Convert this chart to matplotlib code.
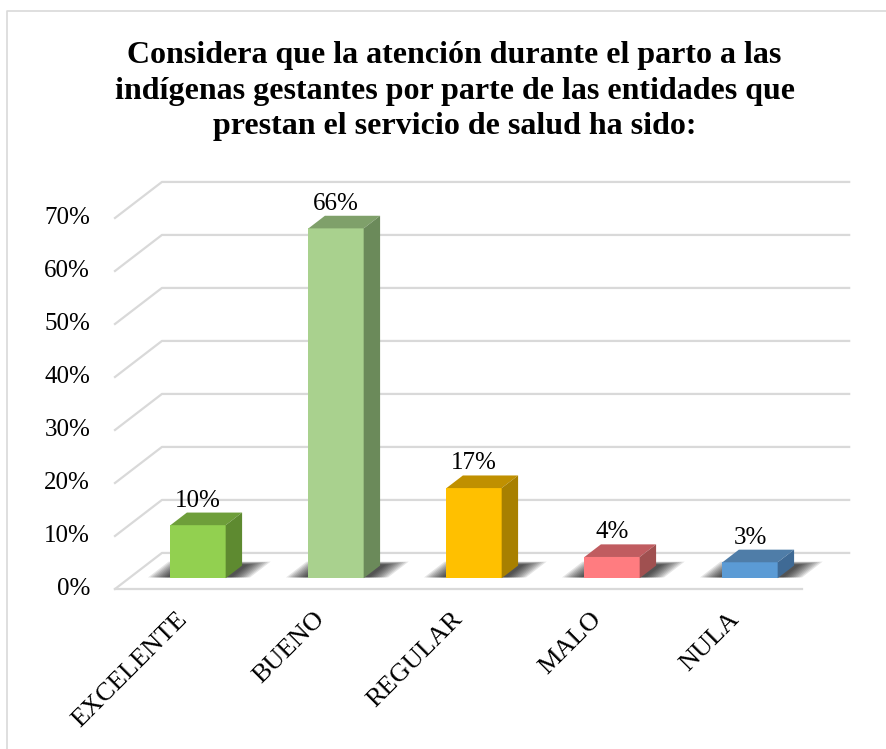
import matplotlib
matplotlib.use('Agg')
import matplotlib.pyplot as plt
from matplotlib.patches import Polygon

plt.rcParams['font.family'] = ['Liberation Serif', 'DejaVu Serif']

# data
categories = ['EXCELENTE', 'BUENO', 'REGULAR', 'MALO', 'NULA']
values = [10, 66, 17, 4, 3]
yticks = [0, 10, 20, 30, 40, 50, 60, 70]

front_col = ['#92D050', '#A9D18E', '#FFC000', '#FF7C80', '#5B9BD5']
top_col = ['#6E9E3A', '#7FA06A', '#C09000', '#C05C60', '#4F7DA8']
side_col = ['#5E8A30', '#6B8A5A', '#A88000', '#A05050', '#3F6A95']

title = ('Considera que la atención durante el parto a las\n'
         'indígenas gestantes por parte de las entidades que\n'
         'prestan el servicio de salud ha sido:')

# fake 3d projection: depth 1 = back wall
DX = 0.34   # category units per unit depth
DY = 6.8    # percent per unit depth
d0, d1 = 0.3, 0.65  # bar depth range
hw = 0.2            # half bar width


def proj(x, v, d):
    return (x + d * DX, v + d * DY)


fig = plt.figure(figsize=(8.86, 7.49), dpi=100)
ax = fig.add_axes([0, 0, 1, 1])
ax.set_xlim(-1.3333, 5.087)
ax.set_ylim(-30.19, 111.13)
ax.axis('off')

grid = '#D9D9D9'
xl, xr = -0.5, 4.48
for v in yticks:
    pts = [proj(xl, v, 0), proj(xl, v, 1), proj(xr, v, 1)]
    ax.plot([p[0] for p in pts], [p[1] for p in pts], color=grid, lw=1.6, zorder=1)
    ax.text(xl - 0.18, v, f'{v}%', ha='right', va='center', fontsize=18)
# floor front edge
ax.plot([xl, xr], [0, 0], color=grid, lw=1.6, zorder=1)

for i, (cat, val) in enumerate(zip(categories, values)):
    # soft shadow on floor
    n = 10
    for k in range(n):
        s = 0.15 * (1 - k / n)
        sh = [proj(i - hw - 0.02 - s, 0, d0 + 0.02),
              proj(i + hw + 0.02 + s, 0, d0 + 0.02),
              proj(i + hw + 0.02 + s, 0, d1 + 0.02 + s * 0.6),
              proj(i - hw - 0.02 - s, 0, d1 + 0.02 + s * 0.6)]
        ax.add_patch(Polygon(sh, closed=True, fc='#000000', ec='none',
                             alpha=0.1, zorder=2))
    xa, xb = i - hw, i + hw
    front = [proj(xa, 0, d0), proj(xb, 0, d0), proj(xb, val, d0), proj(xa, val, d0)]
    top = [proj(xa, val, d0), proj(xb, val, d0), proj(xb, val, d1), proj(xa, val, d1)]
    side = [proj(xb, 0, d0), proj(xb, 0, d1), proj(xb, val, d1), proj(xb, val, d0)]
    ax.add_patch(Polygon(front, closed=True, fc=front_col[i], ec='none', zorder=3))
    ax.add_patch(Polygon(top, closed=True, fc=top_col[i], ec='none', zorder=3))
    ax.add_patch(Polygon(side, closed=True, fc=side_col[i], ec='none', zorder=3))
    lx, ly = proj(i, val, d0)
    ax.text(lx, val + d1 * DY + 0.2, f'{val}%', ha='center', va='bottom',
            fontsize=18, zorder=4)
    ax.text(i - 0.06, -3.6, cat, ha='right', va='top', rotation=45,
            rotation_mode='anchor', fontsize=19)

fig.text(0.513, 0.945, title, ha='center', va='top', fontsize=23,
         fontweight='bold', linespacing=1.3)

# top and left frame lines
fig.add_artist(plt.Line2D([7 / 886, 7 / 886, 1], [0, 738 / 749, 738 / 749],
                          transform=fig.transFigure, color='#D9D9D9', lw=1.2))

fig.savefig('out.png', dpi=100)
